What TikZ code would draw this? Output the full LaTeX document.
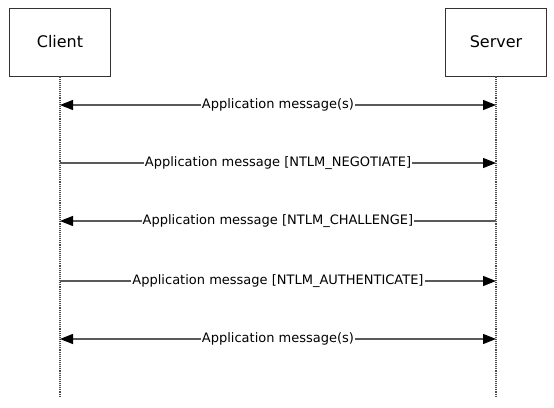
\documentclass[tikz,border=0pt]{standalone}
\usepackage{fontspec}
\setmainfont{DejaVu Sans}
\usetikzlibrary{arrows.meta}
\tikzset{
  actor/.style={draw=black!80, line width=0.8pt, fill=white, minimum width=101pt, minimum height=68pt, inner sep=0pt, font=\fontsize{16}{19}\selectfont},
  lifeline/.style={draw=black!70, line width=1.1pt, densely dotted},
  msg/.style={draw=black!65, line width=1.2pt, arrows={-Triangle[length=13pt,width=10pt,color=black]}},
  msgboth/.style={msg, arrows={Triangle[length=13pt,width=10pt,color=black]-Triangle[length=13pt,width=10pt,color=black]}},
  msgtext/.style={fill=white, inner sep=1.2pt, font=\fontsize{13}{15}\selectfont, text=black}
}
\begin{document}
\begin{tikzpicture}[x=1pt,y=-1pt]
\useasboundingbox[fill=white] (0,0) rectangle (554,407);
% Drawing actors
\node[actor] (client) at (60,42) {Client};
\node[actor] (server) at (496,42) {Server};
% Drawing lifelines
\coordinate (clientend) at (60,397);
\coordinate (serverend) at (496,397);
\draw[lifeline] (client.south) -- (clientend);
\draw[lifeline] (server.south) -- (serverend);
% Message points on the lifelines
\coordinate (c1) at (60,105);  \coordinate (s1) at (496,105);
\coordinate (c2) at (60,163);  \coordinate (s2) at (496,163);
\coordinate (c3) at (60,221);  \coordinate (s3) at (496,221);
\coordinate (c4) at (60,281);  \coordinate (s4) at (496,281);
\coordinate (c5) at (60,339);  \coordinate (s5) at (496,339);
% Drawing messages
\draw[msgboth] (c1) -- node[msgtext] {Application message(s)} (s1);
\draw[msg] (c2) -- node[msgtext] {Application message [NTLM\_NEGOTIATE]} (s2);
\draw[msg] (s3) -- node[msgtext] {Application message [NTLM\_CHALLENGE]} (c3);
\draw[msg] (c4) -- node[msgtext] {Application message [NTLM\_AUTHENTICATE]} (s4);
\draw[msgboth] (c5) -- node[msgtext] {Application message(s)} (s5);
\end{tikzpicture}
\end{document}
